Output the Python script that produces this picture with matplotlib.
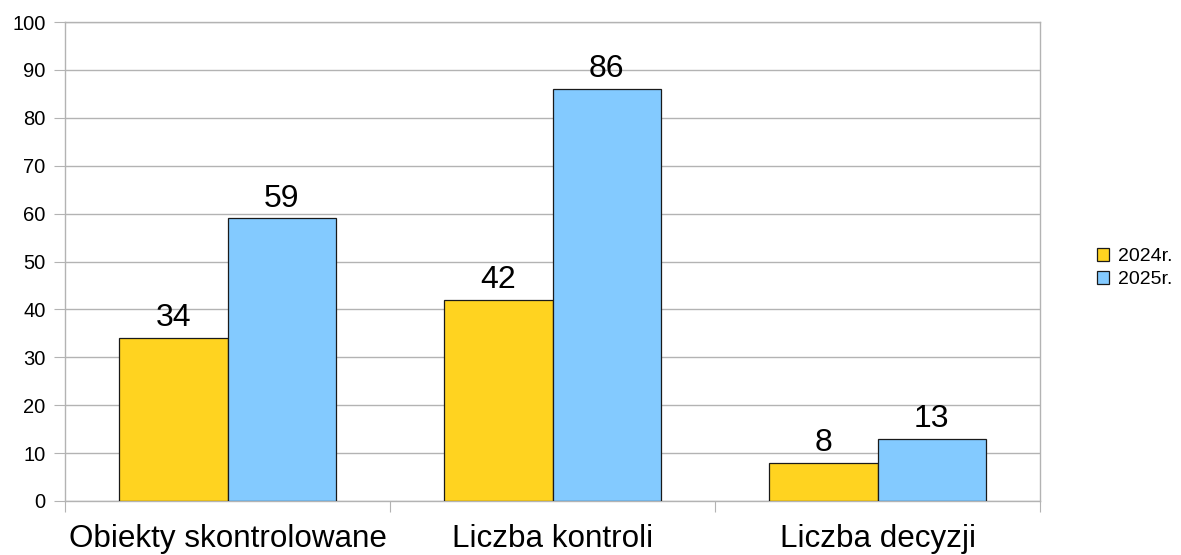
import matplotlib.pyplot as plt
import numpy as np
from matplotlib.patches import Patch

plt.rcParams['font.family'] = ['Liberation Sans', 'DejaVu Sans']

categories = ['Obiekty skontrolowane', 'Liczba kontroli', 'Liczba decyzji']
series_names = ['2024r.', '2025r.']
values_2024 = [34, 42, 8]
values_2025 = [59, 86, 13]
colors = ['#FFD320', '#83CAFF']

fig = plt.figure(figsize=(11.81, 5.55), dpi=100)
ax = fig.add_axes([65 / 1181, 54 / 555, 975 / 1181, 479 / 555])

x = np.arange(len(categories))
w = 0.333
grid_c = '#b3b3b3'

b1 = ax.bar(x - w / 2, values_2024, w, color=colors[0], edgecolor='#1a1a1a', linewidth=0.9, zorder=3)
b2 = ax.bar(x + w / 2, values_2025, w, color=colors[1], edgecolor='#1a1a1a', linewidth=0.9, zorder=3)
ax.bar_label(b1, fontsize=23, padding=3.5)
ax.bar_label(b2, fontsize=23, padding=3.5)

ax.set_xlim(-0.5, len(categories) - 0.5)
ax.set_ylim(0, 100)
ax.set_yticks(np.arange(0, 101, 10))
ax.yaxis.grid(True, color=grid_c, linewidth=1, zorder=0)
ax.tick_params(axis='y', length=8, color=grid_c, labelsize=14.5, pad=6)

# category boundaries as ticks, labels in the middle
ax.set_xticks(np.arange(-0.5, len(categories), 1.0))
ax.set_xticklabels([])
ax.tick_params(axis='x', which='major', length=8, color=grid_c)
ax.set_xticks(x, minor=True)
ax.set_xticklabels(categories, minor=True, fontsize=22.6)
ax.tick_params(axis='x', which='minor', length=0, pad=16.5)

for s in ax.spines.values():
    s.set_color(grid_c)
    s.set_linewidth(1)

handles = [Patch(facecolor=c, edgecolor='#1a1a1a', linewidth=0.9) for c in colors]
fig.legend(handles, series_names, loc='center left', bbox_to_anchor=(1097 / 1181, 1 - 268 / 555),
           frameon=False, fontsize=14, handlelength=0.62, handleheight=0.62,
           handletextpad=0.45, labelspacing=0.3, borderpad=0, borderaxespad=0)

fig.savefig('out.png', dpi=100)
